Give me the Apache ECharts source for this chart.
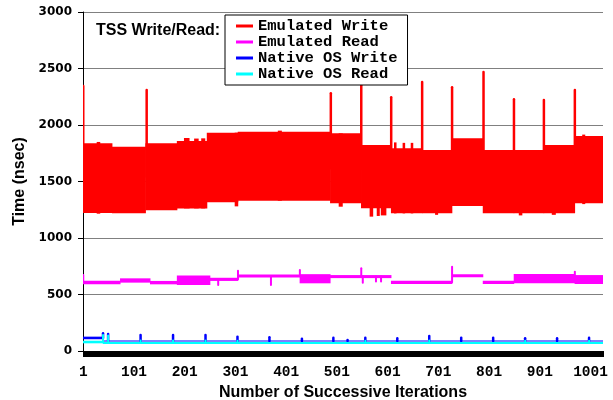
<!DOCTYPE html>
<html><head><meta charset="utf-8">
<script src="https://cdn.jsdelivr.net/npm/echarts@6/dist/echarts.min.js"></script>
<style>html,body{margin:0;padding:0;background:#fff}#c{width:613px;height:400px}</style>
</head><body><div id="c"></div>
<script>
// ---- data ----
const ITERATION_COUNT = 1025;
const xTickLabels = ['1','101','201','301','401','501','601','701','801','901','1001'];
const yTickMax = 3000;
const yTickStep = 500;
const seriesNames = ['Emulated Write','Emulated Read','Native OS Write','Native OS Read'];
const seriesColors = ['#ff0000','#ff00ff','#0000ff','#00ffff'];

// range of values per run of iterations: [firstIteration, lastIteration, low, high]
const emulatedWriteRuns = [
  [1, 58, 1222, 1838], [58, 124, 1220, 1808], [124, 186, 1245, 1838],
  [186, 245, 1262, 1858], [245, 306, 1316, 1932], [306, 488, 1330, 1940],
  [488, 549, 1307, 1926], [549, 608, 1263, 1823], [608, 669, 1218, 1794],
  [669, 728, 1218, 1779], [728, 789, 1283, 1882], [789, 850, 1218, 1779],
  [850, 909, 1218, 1779], [909, 970, 1218, 1823], [970, 1025, 1307, 1903],
  // short irregular runs at the band edges
  [28, 34, 1215, 1850], [200, 210, 1262, 1885], [220, 228, 1262, 1880],
  [234, 241, 1262, 1882], [300, 306, 1280, 1932], [385, 392, 1330, 1950],
  [505, 512, 1277, 1926], [566, 572, 1189, 1823], [580, 585, 1195, 1823],
  [588, 598, 1200, 1823], [614, 618, 1218, 1846], [631, 635, 1218, 1842],
  [647, 651, 1218, 1842], [695, 700, 1205, 1779], [860, 866, 1200, 1779],
  [925, 932, 1205, 1823], [985, 990, 1300, 1915]
];
// isolated peaks: [iteration, value]
const emulatedWriteSpikes = [
  [1, 2345], [126, 2310], [489, 2280], [549, 2351], [608, 2245], [669, 2381],
  [728, 2334], [790, 2469], [850, 2227], [909, 2221], [970, 2310]
];

const emulatedReadRuns = [
  [1, 74, 590, 622], [74, 133, 605, 643], [133, 186, 590, 620],
  [186, 251, 584, 668], [251, 306, 620, 648], [306, 428, 650, 678],
  [428, 488, 599, 680], [488, 549, 645, 672], [549, 608, 645, 672],
  [608, 728, 594, 622], [728, 789, 652, 680], [789, 850, 594, 622],
  [850, 970, 599, 681], [970, 1025, 593, 672]
];
const emulatedReadSpikes = [
  [1, 672], [267, 584], [306, 711], [371, 584], [428, 717], [549, 732],
  [552, 605], [578, 614], [588, 614], [728, 746], [970, 702]
];

const nativeWriteRuns = [[1, 40, 104, 127], [40, 1025, 84, 93]];
const nativeWriteSpikes = [
  [40, 156], [50, 150], [114, 142], [178, 142], [242, 142], [305, 127],
  [368, 121], [432, 109], [494, 118], [522, 97], [557, 118], [620, 112],
  [683, 133], [746, 118], [809, 118], [872, 112], [935, 112], [998, 118]
];

const nativeReadRuns = [[1, 40, 68, 91], [40, 1025, 62, 80]];
const nativeReadSpikes = [
  [40, 142], [50, 138], [114, 92], [178, 92], [242, 92], [305, 90], [557, 90],
  [683, 92], [872, 90], [998, 90]
];

// ---- chart ----
const categories = Array.from({length: ITERATION_COUNT}, (_, k) => String(k + 1));

function buildSeries(name, color, runs, spikes, spikeWidth) {
  const data = runs.map(r => [r[0] - 1, r[1] - 1, r[2], r[3]])
    .concat(spikes.map(p => [p[0] - 1, p[0] - 1, p[1], p[1]]));
  return {
    type: 'custom', name: name, color: color, itemStyle: {color: color},
    clip: true, silent: true,
    encode: {x: [0, 1], y: [2, 3]},
    data: data,
    renderItem: function (params, api) {
      const k = params.dataIndex;
      const half = api.size([1, 0])[0] / 2;
      if (k < runs.length) {
        const r = runs[k];
        const a = api.coord([r[0] - 1, r[3]]);
        const b = api.coord([r[1] - 1, r[2]]);
        return {type: 'rect', shape: {x: a[0] - half, y: a[1], width: b[0] - a[0] + 2 * half, height: b[1] - a[1]},
          style: {fill: color}};
      }
      const sp = spikes[k - runs.length];
      const run = runs.find(r => sp[0] >= r[0] && sp[0] <= r[1]);
      const base = (run[2] + run[3]) / 2;
      const a = api.coord([sp[0] - 1, base]);
      const b = api.coord([sp[0] - 1, sp[1]]);
      return {type: 'line', shape: {x1: a[0], y1: a[1], x2: b[0], y2: b[1]},
        style: {stroke: color, lineWidth: spikeWidth, lineCap: 'round'}};
    }
  };
}

const chart = echarts.init(document.getElementById('c'), null, {renderer: 'canvas'});
chart.setOption({
  animation: false,
  backgroundColor: '#ffffff',
  title: {
    text: 'TSS Write/Read:', left: 96, top: 23, padding: 0,
    textStyle: {fontFamily: 'Liberation Sans', fontWeight: 'bold', fontSize: 16, color: '#000', lineHeight: 16}
  },
  legend: {
    orient: 'vertical', left: 225, top: 15,
    padding: [3, 10, 3, 11], itemGap: 0,
    itemWidth: 17, itemHeight: 3,
    borderColor: '#000', borderWidth: 1, backgroundColor: '#fff',
    data: seriesNames.map(n => ({name: n, icon: 'rect'})),
    textStyle: {fontFamily: 'Liberation Mono', fontWeight: 'bold', fontSize: 15.5, color: '#000', lineHeight: 15}
  },
  grid: {left: 83, right: 10, top: 12, bottom: 49, containLabel: false, outerBoundsMode: 'none'},
  xAxis: {
    type: 'category', data: categories, boundaryGap: true,
    name: 'Number of Successive Iterations', nameLocation: 'middle', nameGap: 34,
    nameTextStyle: {fontFamily: 'Liberation Sans', fontWeight: 'bold', fontSize: 16, color: '#000'},
    axisLine: {lineStyle: {color: '#000', width: 1}},
    axisTick: {show: true, interval: 0, length: 6, lineStyle: {color: '#000', width: 1}},
    axisLabel: {
      interval: (idx, val) => xTickLabels.includes(val),
      margin: 14, color: '#000',
      fontFamily: 'Liberation Mono', fontWeight: 'bold', fontSize: 14.5
    },
    splitLine: {show: false}
  },
  yAxis: {
    type: 'value', min: 0, max: yTickMax, interval: yTickStep,
    name: 'Time (nsec)', nameLocation: 'middle', nameGap: 51, nameRotate: 90,
    nameTextStyle: {fontFamily: 'Liberation Sans', fontWeight: 'bold', fontSize: 16, color: '#000'},
    axisLine: {show: true, lineStyle: {color: '#000', width: 1}},
    axisTick: {show: true, length: 5, lineStyle: {color: '#000'}},
    axisLabel: {margin: 11, color: '#000', fontFamily: 'DejaVu Sans', fontWeight: 'bold', fontSize: 12,
      formatter: v => String(v)},
    splitLine: {show: true, lineStyle: {color: '#808080', width: 1}}
  },
  series: [
    buildSeries(seriesNames[0], seriesColors[0], emulatedWriteRuns, emulatedWriteSpikes, 2.5),
    buildSeries(seriesNames[1], seriesColors[1], emulatedReadRuns, emulatedReadSpikes, 2),
    buildSeries(seriesNames[2], seriesColors[2], nativeWriteRuns, nativeWriteSpikes, 2.5),
    buildSeries(seriesNames[3], seriesColors[3], nativeReadRuns, nativeReadSpikes, 2)
  ]
});
</script>
</body></html>
